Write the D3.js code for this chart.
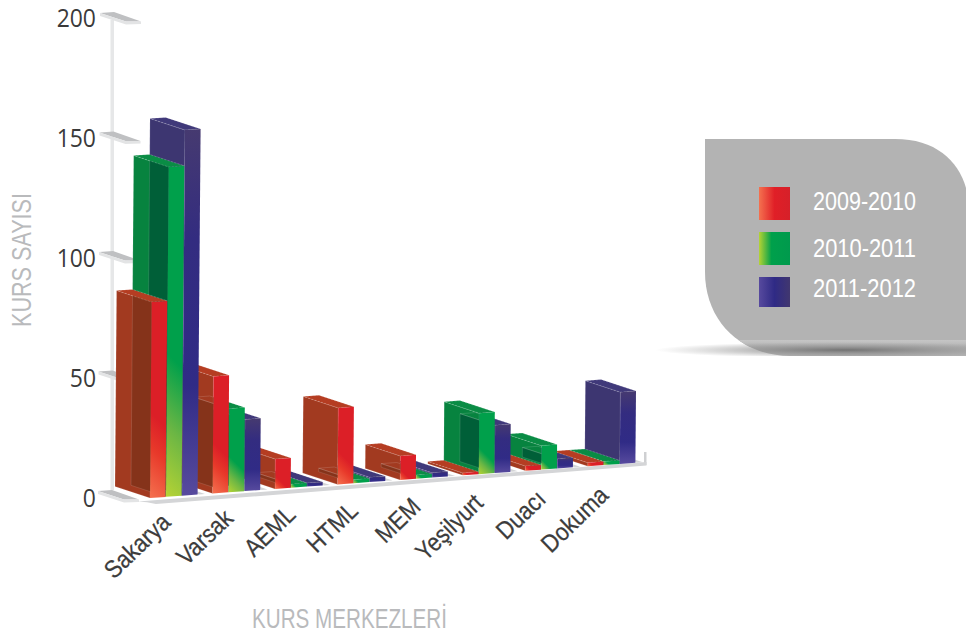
<!DOCTYPE html>
<html>
<head>
<meta charset="utf-8">
<title>Kurs Sayisi</title>
<script src="https://d3js.org/d3.v7.min.js"></script>
<style>
html, body { margin: 0; padding: 0; background: #fff; }
svg { display: block; }
.narrow { font-family: "Liberation Sans Narrow", "Liberation Sans", sans-serif; }
</style>
</head>
<body>
<svg id="canvas" width="966" height="637"></svg>
<script>
// values
var categories = ["Sakarya", "Varsak", "AEML", "HTML", "MEM", "Yeşilyurt", "Duacı", "Dokuma"];
var seriesNames = ["2009-2010", "2010-2011", "2011-2012"];
var values2009 = [82, 49, 12.5, 32, 10, 1, 2, 1.5];
var values2010 = [138, 35, 1.5, 1.5, 1.5, 25.5, 10, 1.5];
var values2011 = [153, 30, 1.5, 2, 2, 20, 4, 30];
var yTicks = [0, 50, 100, 150, 200];

var allValues = [values2009, values2010, values2011];

var svg = d3.select("#canvas");
var defs = svg.append("defs");

// scales. the chart is a fake 3d one so a bar corner is front position + depth + lean
var xScale = d3.scaleBand().domain(categories).range([150, 150 + 62.55 * categories.length]);
var sScale = d3.scaleBand().domain(seriesNames).range([0, 48]);
var hScale = d3.scaleLinear().domain([0, 200]).range([0, 478]);
var yScale = d3.scaleLinear().domain([0, 200]).range([490, 12]);

var slope = -0.0725, lean = 0.0082, depthX = -35, depthY = -11.5, barW = 15.6;

// z is 0 at the front and 1 at the back
function project(x, z, h) {
    return [x + z * depthX + h * lean, 498 + slope * (x - 150) + z * depthY - h];
}
function poly(pts) { return pts.map(function(p) { return p[0].toFixed(1) + "," + p[1].toFixed(1); }).join(" "); }

function barX(i, s) { return xScale(categories[i]) + sScale(seriesNames[s]); }
function sidePts(i, s) {
    var x = barX(i, s), h = hScale(allValues[s][i]);
    return [project(x, 1, 0), project(x, 1, h), project(x, 0, h), project(x, 0, 0)];
}
function topPts(i, s) {
    var x = barX(i, s), h = hScale(allValues[s][i]);
    return [project(x, 1, h), project(x + barW, 1, h), project(x + barW, 0, h), project(x, 0, h)];
}
function frontPts(i, s) {
    var x = barX(i, s), h = hScale(allValues[s][i]);
    return [project(x, 0, 0), project(x, 0, h), project(x + barW, 0, h), project(x + barW, 0, 0)];
}

// colours for each series
var sideCol = ["#a23a20", "#07833f", "#3d3671"];
var darkCol = ["#85331a", "#005f38", "#352f68"];
var topCol = ["#b53d22", "#0a8c45", "#40397a"];
var frontStops = [
    [[0, "#f4714f"], [0.6, "#e8392a"], [1, "#dc1f27"]],
    [[0, "#b6d334"], [0.5, "#6bb644"], [1, "#00a04b"]]
];

function linGrad(id, x1, y1, x2, y2, stops) {
    var g = defs.append("linearGradient").attr("id", id)
        .attr("x1", x1).attr("y1", y1).attr("x2", x2).attr("y2", y2);
    stops.forEach(function(st) { g.append("stop").attr("offset", st[0]).attr("stop-color", st[1]); });
    return g;
}
linGrad("front2", 0, 0, 0, 1, [[0, "#463a70"], [0.3, "#332c80"], [0.7, "#302b86"], [1, "#574a9e"]]);
linGrad("leg0", 0, 0, 1, 0, [[0, "#f4714f"], [0.5, "#e01f27"], [1, "#d62029"]]);
linGrad("leg1", 0, 0, 1, 0, [[0, "#b6d334"], [0.4, "#00a04b"], [1, "#009a4d"]]);
linGrad("leg2", 0, 0, 1, 0, [[0, "#574a9e"], [0.5, "#2f2a85"], [1, "#41376f"]]);

// red and green fronts get their own 45 degree gradient from the bottom left corner
function frontFill(i, s) {
    if (s == 2) return "url(#front2)";
    var pts = frontPts(i, s), b = pts[0];
    var d = Math.max(3, hScale(allValues[s][i]) * 0.22);
    var id = "front" + i + "_" + s;
    linGrad(id, b[0], b[1], b[0] + d, b[1] - d, frontStops[s]).attr("gradientUnits", "userSpaceOnUse");
    return "url(#" + id + ")";
}

// y axis wall line
svg.append("rect").attr("x", 110.5).attr("y", 20).attr("width", 3.5).attr("height", 470).attr("fill", "#e6e7e8");

// tick plates
var plates = svg.append("g");
yTicks.forEach(function(t) {
    var y = yScale(t), x = 98 + hScale(t) * 0.0042;
    plates.append("polygon").attr("fill", "#bfc0c2")
        .attr("points", poly([[x, y + 1], [x + 14, y], [x + 41, y + 9.5], [x + 26, y + 9.5]]));
    plates.append("polygon").attr("fill", "#e3e4e5")
        .attr("points", poly([[x, y + 1], [x + 26, y + 9.5], [x + 41, y + 9.5], [x + 41, y + 12], [x + 26, y + 12.5], [x, y + 4]]));
});

// floor
var floor = svg.append("g");
floor.append("polygon").attr("fill", "#cfd0d2")
    .attr("points", poly([[644, 452], [646.5, 452], [646.5, 465], [644, 465]]));
categories.forEach(function(c, i) {
    var x = xScale(c) + 49;
    floor.append("polygon").attr("fill", "#d3d4d6")
        .attr("points", poly([project(x, 1, 0), project(x + 6, 1, 0), project(x + 6, 0, 0), project(x, 0, 0)]));
});
var fx0 = 147, fx1 = 646.5;
floor.append("polygon").attr("fill", "#d4d5d7")
    .attr("points", poly([project(fx0 - 9, 0, -2.5), project(fx1, 0, 0), project(fx1, 0, -3.5), project(fx0 + 9, 0, -6.5), project(fx0, 0, -4)]));

// bars, painted from the back right to the front left
var chart = svg.append("g");
d3.range(categories.length - 1, -1, -1).forEach(function(i) {
    d3.range(2, -1, -1).forEach(function(s) {
        var g = chart.append("g");
        var clipId = "clip" + i + "_" + s;
        defs.append("clipPath").attr("id", clipId).append("polygon").attr("points", poly(sidePts(i, s)));

        g.append("polygon").attr("points", poly(sidePts(i, s)))
            .attr("fill", sideCol[s]).attr("stroke", "rgba(255,255,255,.22)").attr("stroke-width", 0.6);

        // the faces are see-through in the original, next bar shows through the side
        var inner = g.append("g").attr("clip-path", "url(#" + clipId + ")");
        if (s < 2) {
            inner.append("polygon").attr("points", poly(sidePts(i, s + 1)))
                .attr("fill", darkCol[s]).attr("stroke", "rgba(255,255,255,.18)").attr("stroke-width", 0.7);
            inner.append("polygon").attr("points", poly(topPts(i, s + 1)))
                .attr("fill", "none").attr("stroke", "rgba(255,255,255,.2)").attr("stroke-width", 0.7);
        }
        if (s > 0) {
            inner.append("polygon").attr("points", poly(topPts(i, s - 1)))
                .attr("fill", "none").attr("stroke", "rgba(255,255,255,.2)").attr("stroke-width", 0.7);
        }

        g.append("polygon").attr("points", poly(topPts(i, s)))
            .attr("fill", topCol[s]).attr("stroke", "rgba(255,255,255,.3)")
            .attr("stroke-width", 0.6).attr("stroke-dasharray", "2 1.5");
        g.append("polygon").attr("points", poly(frontPts(i, s)))
            .attr("fill", frontFill(i, s));
    });
});

// y axis labels, a size up and squeezed because the original face is taller and narrower
var yAxis = d3.axisLeft(d3.scaleLinear().domain([0, 200]).range([498, 18]))
    .tickValues(yTicks).tickSize(0).tickPadding(0);
var yG = svg.append("g").attr("transform", "translate(96,0)").call(yAxis);
yG.select(".domain").remove();
yG.selectAll("text").attr("font-family", "'Open Sans', sans-serif").attr("font-size", 25.5)
    .attr("fill", "#3a3a3a")
    .attr("transform", function(d) { return "translate(0," + yAxis.scale()(d) + ") scale(0.9,1) translate(0," + (-yAxis.scale()(d)) + ")"; });

// category labels, bigger font squeezed back to the width they have in the picture
categories.forEach(function(c, i) {
    var x = xScale(c) + 22;
    var y = 524 + slope * (x - 172) * 0.85;
    svg.append("text").attr("class", "narrow")
        .attr("transform", "translate(" + x + "," + y + ") rotate(-44) scale(0.88,1)")
        .attr("text-anchor", "end").attr("font-size", 25).attr("fill", "#3c3c3c")
        .attr("stroke", "#3c3c3c").attr("stroke-width", 0.25).text(c);
});

// axis titles
svg.append("text").attr("class", "narrow")
    .attr("transform", "translate(31,327) rotate(-90)")
    .attr("font-size", 27).attr("fill", "#b9babc").attr("textLength", 134).attr("lengthAdjust", "spacingAndGlyphs")
    .text("KURS SAYISI");
svg.append("text").attr("class", "narrow")
    .attr("x", 252).attr("y", 628)
    .attr("font-size", 27).attr("fill", "#b9babc").attr("textLength", 195).attr("lengthAdjust", "spacingAndGlyphs")
    .text("KURS MERKEZLERİ");

// legend panel
var panelPath = "M705,139 H895 C935,139 958,160 966,188 V356 H790 C742,356 705,322 705,272 Z";
svg.append("path").attr("fill", "#b3b3b3").attr("d", panelPath);
defs.append("clipPath").attr("id", "panelClip").append("path").attr("d", panelPath);

// pale strip and dark shadow along the bottom of the panel
linGrad("strip", 0, 0, 0, 1, [[0, "#c6c6c6"], [1, "#b3b3b3"]]);
svg.append("rect").attr("x", 720).attr("y", 340).attr("width", 246).attr("height", 7)
    .attr("fill", "url(#strip)").attr("clip-path", "url(#panelClip)");

var shadow = defs.append("radialGradient").attr("id", "shadow");
shadow.append("stop").attr("offset", 0).attr("stop-color", "#6f6f6f").attr("stop-opacity", 0.95);
shadow.append("stop").attr("offset", 0.45).attr("stop-color", "#8a8a8a").attr("stop-opacity", 0.6);
shadow.append("stop").attr("offset", 1).attr("stop-color", "#999").attr("stop-opacity", 0);
defs.append("clipPath").attr("id", "shadowClip").append("rect").attr("x", 650).attr("y", 340).attr("width", 316).attr("height", 16);
svg.append("ellipse").attr("cx", 845).attr("cy", 350).attr("rx", 190).attr("ry", 8)
    .attr("fill", "url(#shadow)").attr("clip-path", "url(#shadowClip)");

var swatchTop = [187, 232, 277], swatchH = [33, 33, 30], legendBase = [210, 257, 297];
seriesNames.forEach(function(name, s) {
    svg.append("rect").attr("x", 759).attr("y", swatchTop[s]).attr("width", 31).attr("height", swatchH[s])
        .attr("fill", "url(#leg" + s + ")");
    svg.append("text").attr("class", "narrow").attr("x", 813).attr("y", legendBase[s])
        .attr("font-size", 26).attr("fill", "#fff").attr("textLength", 103).attr("lengthAdjust", "spacingAndGlyphs")
        .text(name);
});
</script>
</body>
</html>
